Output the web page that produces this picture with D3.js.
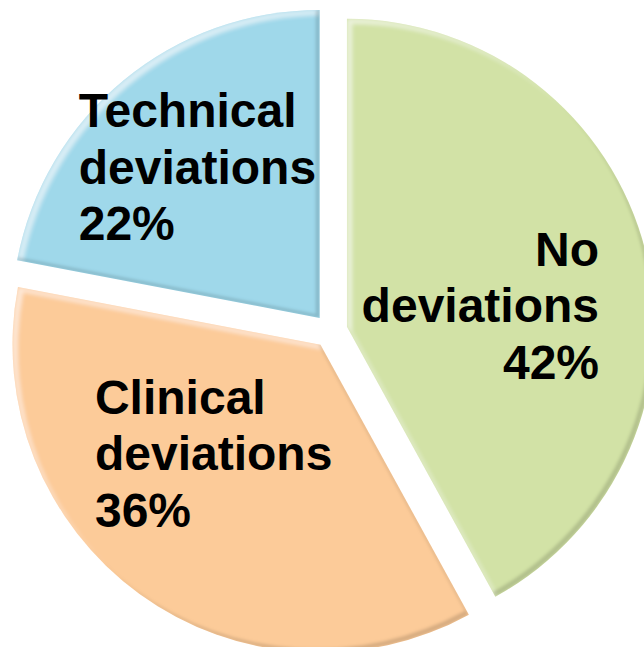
<!DOCTYPE html>
<html>
<head>
<meta charset="utf-8">
<script src="https://cdn.jsdelivr.net/npm/d3@7"></script>
<style>
  body { margin: 0; background: #fff; }
  svg { display: block; }
</style>
</head>
<body>
<script>
var width = 644,
    height = 647;

// chart data
var categories = ["No deviations", "Clinical deviations", "Technical deviations"];
var values = [42, 36, 22];
var labelLines = [["No", "deviations", "42%"], ["Clinical", "deviations", "36%"], ["Technical", "deviations", "22%"]];
var colors = ["#d2e2a6", "#fccb99", "#9fd8ea"];

var radius = 308,
    explode = 17,
    cx = 330.5,
    cy = 331;

// label placement per slice (anchor + nudge from centroid)
var labelAnchor = ["end", "start", "start"];
var labelNudge = [[88, -19], [-126, -68], [-133, -60]];

var svg = d3.select("body").append("svg")
    .attr("width", width)
    .attr("height", height);

var defs = svg.append("defs");
var f = defs.append("filter").attr("id", "bevel")
    .attr("x", "-5%").attr("y", "-5%").attr("width", "110%").attr("height", "110%");
// dark rim bottom/right
f.append("feOffset").attr("in", "SourceAlpha").attr("dx", -4).attr("dy", -4).attr("result", "offDark");
f.append("feComposite").attr("in", "SourceAlpha").attr("in2", "offDark").attr("operator", "out").attr("result", "rimDark");
f.append("feGaussianBlur").attr("in", "rimDark").attr("stdDeviation", 1.5).attr("result", "rimDarkB");
f.append("feFlood").attr("flood-color", "#000").attr("flood-opacity", 0.3).attr("result", "darkCol");
f.append("feComposite").attr("in", "darkCol").attr("in2", "rimDarkB").attr("operator", "in").attr("result", "dark1");
f.append("feComposite").attr("in", "dark1").attr("in2", "SourceAlpha").attr("operator", "in").attr("result", "dark");
// light rim top/left
f.append("feOffset").attr("in", "SourceAlpha").attr("dx", 5).attr("dy", 5).attr("result", "offLight");
f.append("feComposite").attr("in", "SourceAlpha").attr("in2", "offLight").attr("operator", "out").attr("result", "rimLight");
f.append("feGaussianBlur").attr("in", "rimLight").attr("stdDeviation", 2).attr("result", "rimLightB");
f.append("feFlood").attr("flood-color", "#fff").attr("flood-opacity", 0.55).attr("result", "lightCol");
f.append("feComposite").attr("in", "lightCol").attr("in2", "rimLightB").attr("operator", "in").attr("result", "light1");
f.append("feComposite").attr("in", "light1").attr("in2", "SourceAlpha").attr("operator", "in").attr("result", "light");
var m = f.append("feMerge");
m.append("feMergeNode").attr("in", "SourceGraphic");
m.append("feMergeNode").attr("in", "light");
m.append("feMergeNode").attr("in", "dark");

var pie = d3.pie().sort(null).value(function(d) { return d; });
var arcs = pie(values);

var arc = d3.arc().innerRadius(0).outerRadius(radius);
var labelArc = d3.arc().innerRadius(radius * 0.55).outerRadius(radius * 0.55);

var g = svg.append("g")
    .attr("transform", "translate(" + cx + "," + cy + ")");

var slice = g.selectAll(".slice")
    .data(arcs)
    .enter()
    .append("g")
    .attr("class", "slice")
    .attr("transform", function(d) {
      var a = (d.startAngle + d.endAngle) / 2;
      return "translate(" + (Math.sin(a) * explode) + "," + (-Math.cos(a) * explode) + ")";
    });

slice.append("path")
    .attr("d", arc)
    .attr("fill", function(d, i) { return colors[i]; })
    .attr("filter", "url(#bevel)");

slice.each(function(d, i) {
  var c = labelArc.centroid(d);
  var x = c[0] + labelNudge[i][0],
      y = c[1] + labelNudge[i][1];
  var t = d3.select(this).append("text")
      .attr("text-anchor", labelAnchor[i])
      .attr("font-family", "'Liberation Sans', Arial, sans-serif")
      .attr("font-weight", "bold")
      .attr("font-size", "48px")
      .attr("fill", "#000");
  labelLines[i].forEach(function(line, k) {
    t.append("tspan")
      .attr("x", x)
      .attr("y", y + k * 56.5)
      .text(line);
  });
});
</script>
</body>
</html>
